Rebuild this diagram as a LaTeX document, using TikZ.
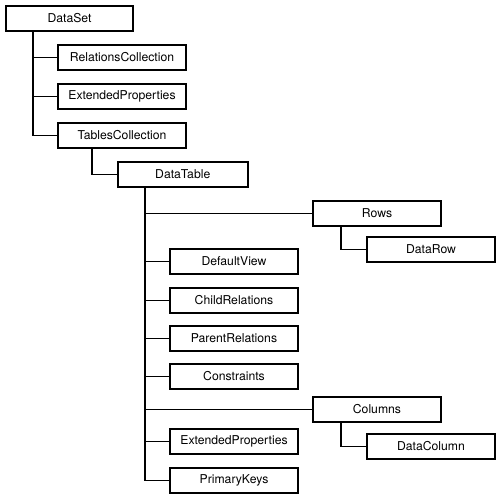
\documentclass[tikz,border=0pt]{standalone}
\usepackage{fontspec}
\setmainfont{TeX Gyre Heros}
\usetikzlibrary{positioning, calc}

\begin{document}
\begin{tikzpicture}[
        font=\fontsize{12.2}{14}\selectfont,
        caixa/.style={draw, line width=1.8pt, minimum width=#1, minimum height=25.2pt, inner sep=2pt},
        caixa/.default=128.2pt,
        ligacao/.style={line width=1.8pt}
    ]
        \useasboundingbox (0,0) rectangle (500pt,-498pt);

        \node[caixa=127.2pt, anchor=north west] (dataset) at (5pt,-5pt) {DataSet};

        \node[caixa, below=12pt of dataset.south west, anchor=north west, xshift=52pt] (relcoll) {RelationsCollection};
        \node[caixa, below=12pt of relcoll] (extprop) {ExtendedProperties};
        \node[caixa, below=12pt of extprop] (tablescoll) {TablesCollection};

        \node[caixa=129.7pt, below=12pt of tablescoll.south west, anchor=north west, xshift=60pt] (datatable) {DataTable};

        \node[caixa, below=12pt of datatable.south west, anchor=north west, xshift=195pt] (rows) {Rows};
        \node[caixa, below=9pt of rows.south west, anchor=north west, xshift=54pt] (datarow) {DataRow};

        \node[caixa, below=60pt of datatable.south west, anchor=north west, xshift=52pt] (defaultview) {DefaultView};
        \node[caixa, below=12pt of defaultview] (childrel) {ChildRelations};
        \node[caixa, below=11pt of childrel] (parentrel) {ParentRelations};
        \node[caixa, below=11pt of parentrel] (constraints) {Constraints};

        \node[caixa, below=6pt of constraints.south west, anchor=north west, xshift=143pt] (columns) {Columns};
        \node[caixa, below=10pt of columns.south west, anchor=north west, xshift=54pt] (datacolumn) {DataColumn};

        \node[caixa, below=38pt of constraints] (extprop2) {ExtendedProperties};
        \node[caixa, below=12pt of extprop2] (primarykeys) {PrimaryKeys};

        % troncos
        \coordinate (dsroot) at ($(dataset.south west)+(28pt,0)$);
        \coordinate (tcroot) at ($(tablescoll.south west)+(35pt,0)$);
        \coordinate (dtroot) at ($(datatable.south west)+(28pt,0)$);
        \coordinate (rwroot) at ($(rows.south west)+(29pt,0)$);
        \coordinate (clroot) at ($(columns.south west)+(29pt,0)$);

        \draw[ligacao] (dsroot) |- (relcoll.west);
        \draw[ligacao] (dsroot) |- (extprop.west);
        \draw[ligacao] (dsroot) |- (tablescoll.west);
        \draw[ligacao] (tcroot) |- (datatable.west);
        \foreach \filho in {rows, defaultview, childrel, parentrel, constraints, columns, extprop2, primarykeys}
            \draw[ligacao] (dtroot) |- (\filho.west);
        \draw[ligacao] (rwroot) |- (datarow.west);
        \draw[ligacao] (clroot) |- (datacolumn.west);
    \end{tikzpicture}
\end{document}
